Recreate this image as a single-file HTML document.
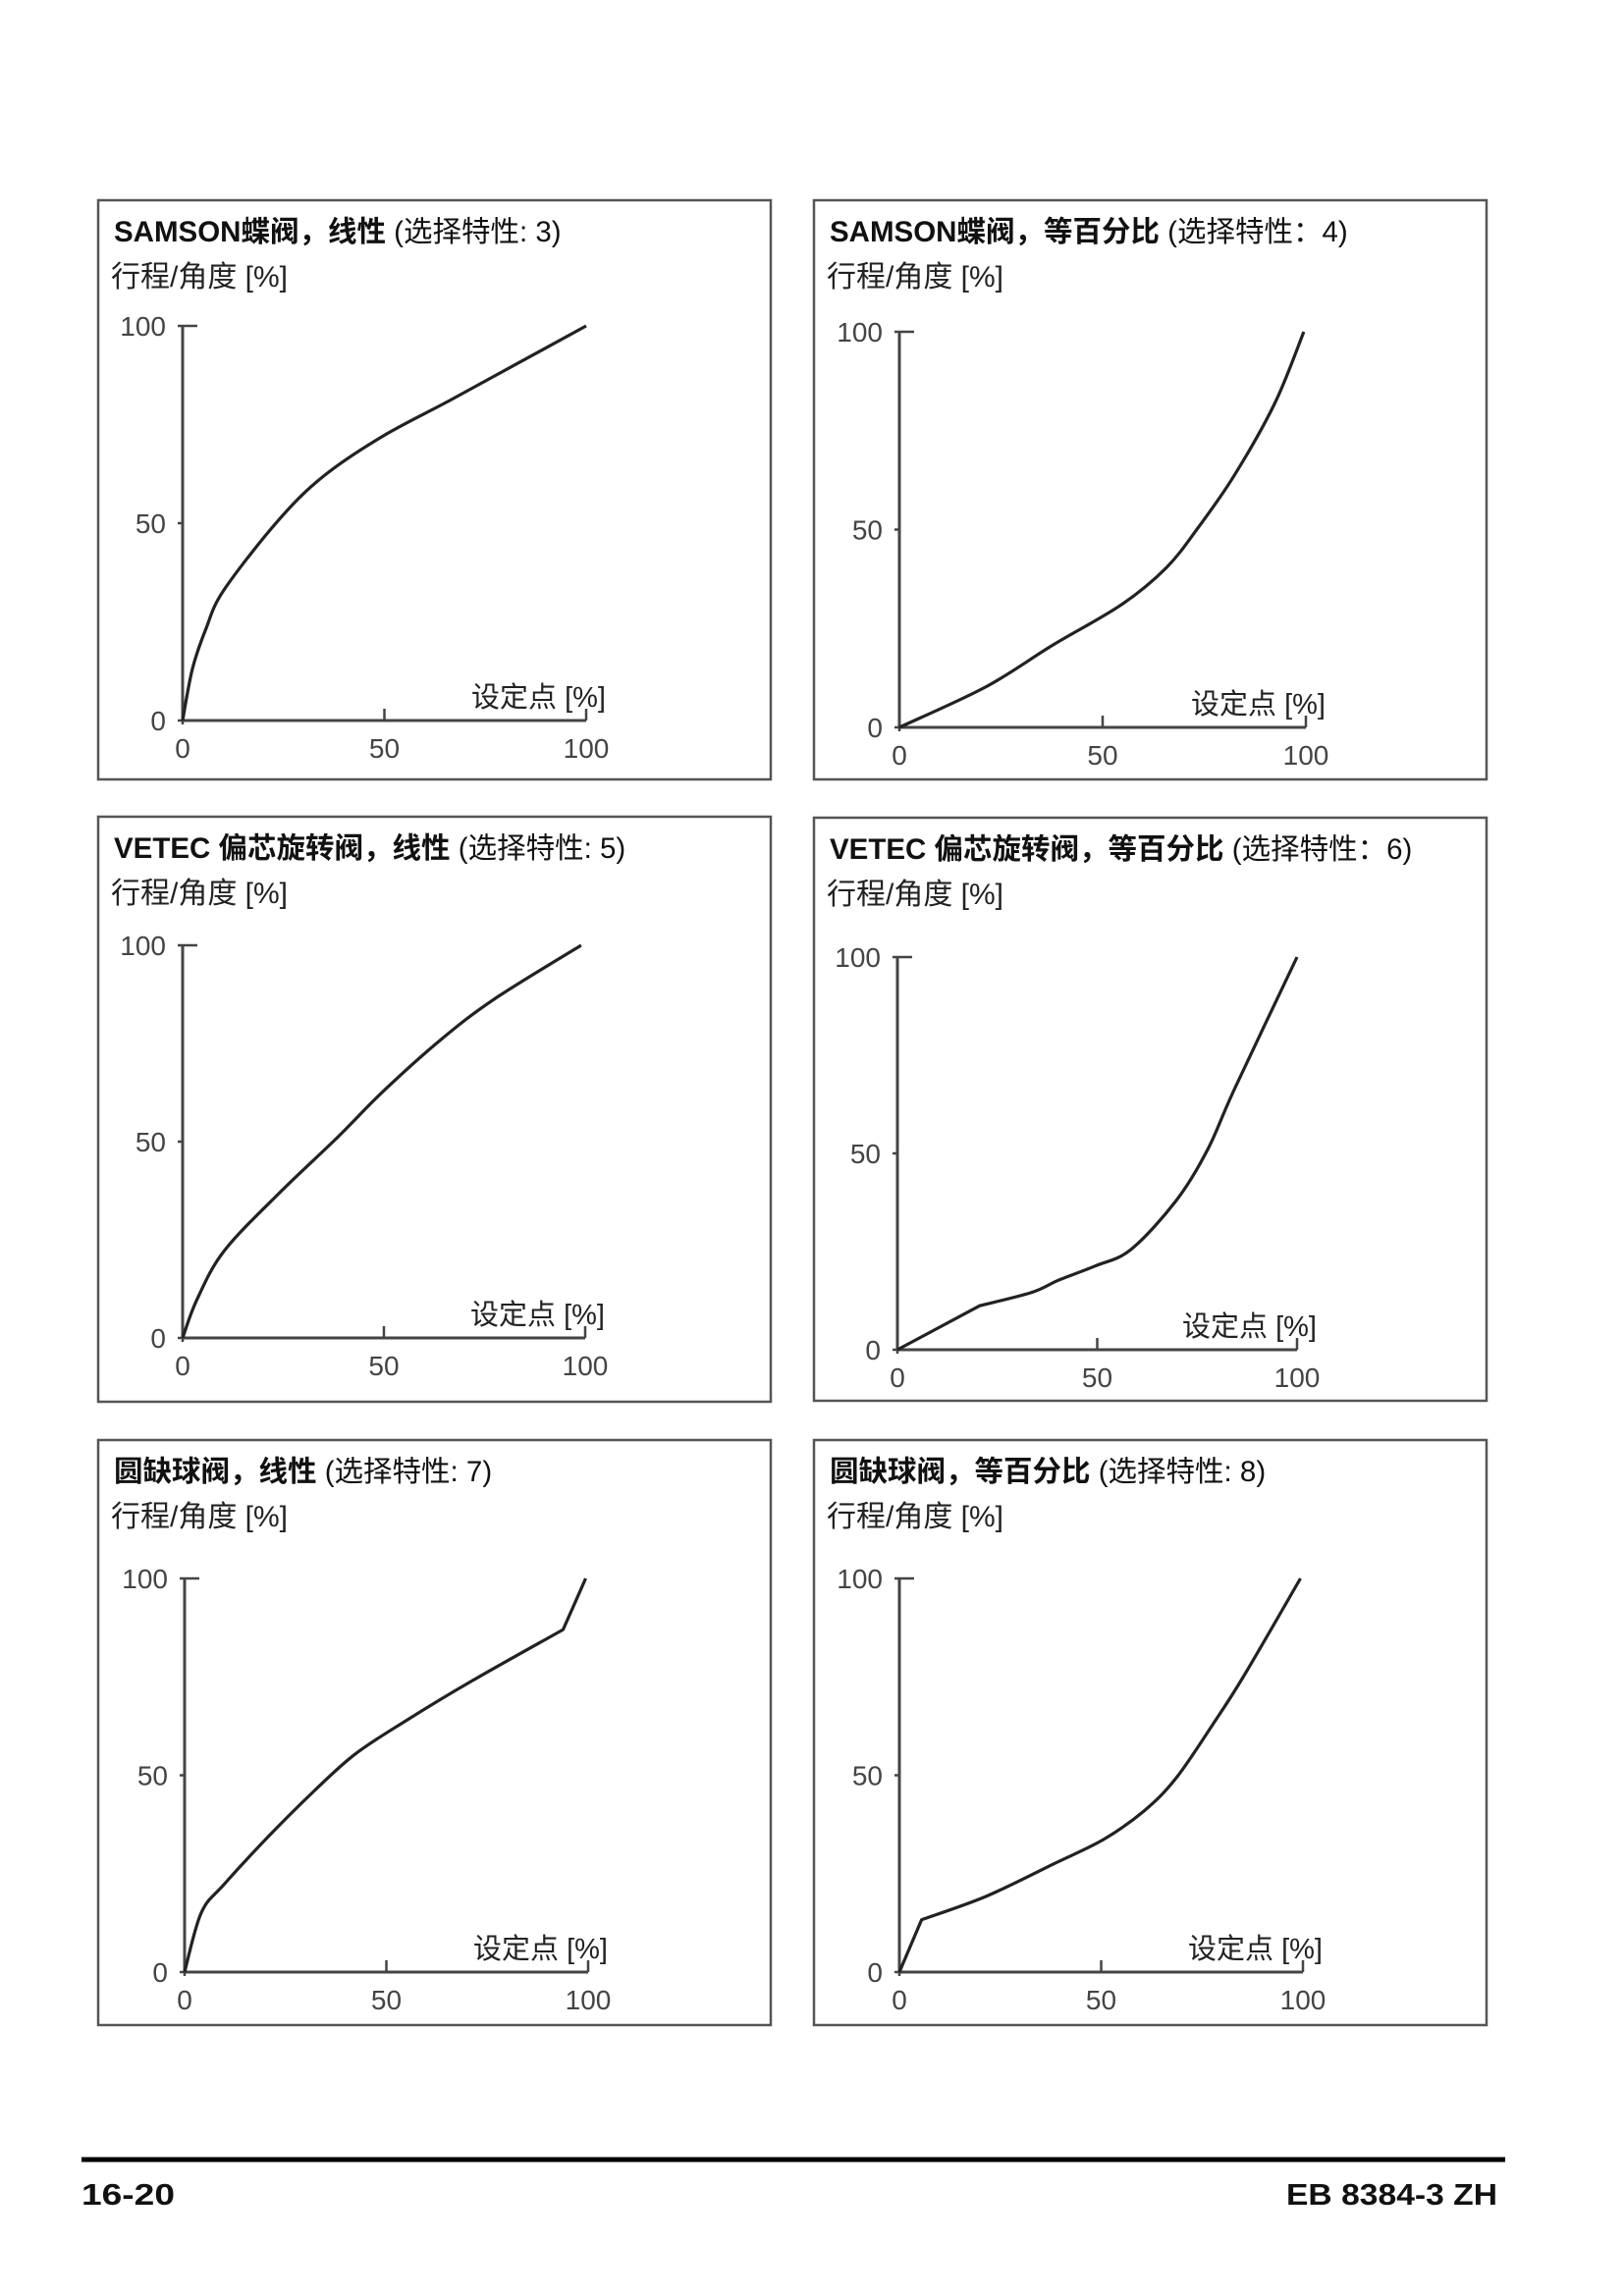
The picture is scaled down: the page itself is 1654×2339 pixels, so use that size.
<!DOCTYPE html>
<html><head><meta charset="utf-8"><style>
html,body{margin:0;padding:0;background:#fff;}
svg{display:block;}
text{font-family:"Liberation Sans","Noto Sans CJK SC",sans-serif;}
</style></head><body>
<svg id="page" width="1654" height="2339" viewBox="0 0 1654 2339" xmlns="http://www.w3.org/2000/svg">
<g id="charts"></g>
<line x1="83" y1="2200" x2="1533" y2="2200" stroke="#000" stroke-width="5"/>
<text x="83" y="2246" font-size="31" font-weight="bold" fill="#111" textLength="95" lengthAdjust="spacingAndGlyphs">16-20</text>
<text x="1525" y="2246" font-size="31" font-weight="bold" fill="#111" text-anchor="end" textLength="215" lengthAdjust="spacingAndGlyphs">EB 8384-3 ZH</text>
</svg>
<script>
// Data (setpoint % -> travel/angle %)
const c3x = [0, 2.4, 5.7, 10.2, 23.7, 35, 49.5, 66, 83, 100];
const c3y = [0, 13, 23, 33, 50.7, 62, 72, 81, 90.5, 100];
const c4x = [0, 21.2, 37.9, 54.6, 65.7, 73.5, 82.4, 92.4, 99.5];
const c4y = [0, 10.2, 20.9, 31, 40.4, 50.5, 63.7, 82, 100];
const c5x = [0, 3.5, 10.2, 23.7, 38.4, 49.6, 64.2, 77.7, 99];
const c5y = [0, 9.6, 22, 36.6, 51, 62.6, 76, 86.5, 100];
const c6x = [0, 20.6, 33.6, 40.3, 49.4, 58.4, 69.7, 77.6, 84.4, 100];
const c6y = [0, 11.2, 14.6, 17.7, 21.3, 25.5, 37.9, 50.9, 66.5, 100];
const c7x = [0, 4.1, 9.8, 21, 32.2, 42.3, 54.6, 71.4, 93.8, 99.4];
const c7y = [0, 15, 22.3, 34.7, 46.1, 55.4, 63.7, 74.1, 87, 100];
const c8x = [0, 5.5, 21.4, 38.3, 50.6, 60.7, 68.6, 77.6, 85.4, 99.4];
const c8y = [0, 13.3, 19.2, 27.5, 33.7, 41, 49.3, 62.8, 75.3, 100];
// indices of sharp corners in each curve
const c3k = [], c4k = [], c5k = [], c6k = [1], c7k = [8], c8k = [1];
const tickValues = [0, 50, 100];
const titlesBold = ["SAMSON蝶阀，线性", "SAMSON蝶阀，等百分比", "VETEC 偏芯旋转阀，线性", "VETEC 偏芯旋转阀，等百分比", "圆缺球阀，线性", "圆缺球阀，等百分比"];
const titlesReg = [" (选择特性: 3)", " (选择特性：4)", " (选择特性: 5)", " (选择特性：6)", " (选择特性: 7)", " (选择特性: 8)"];

const seriesX = [c3x, c4x, c5x, c6x, c7x, c8x];
const seriesY = [c3y, c4y, c5y, c6y, c7y, c8y];
const seriesK = [c3k, c4k, c5k, c6k, c7k, c8k];
// layout (pixels)
const layout = [
  {bx:100,by:204,bw:685,bh:590, ox:186,oy:734,x100:597,y100:332},
  {bx:829,by:204,bw:685,bh:590, ox:916,oy:741,x100:1330,y100:338},
  {bx:100,by:832,bw:685,bh:596, ox:186,oy:1363,x100:596,y100:963},
  {bx:829,by:833,bw:685,bh:594, ox:914,oy:1375,x100:1321,y100:975},
  {bx:100,by:1467,bw:685,bh:596, ox:188,oy:2009,x100:599,y100:1608},
  {bx:829,by:1467,bw:685,bh:596, ox:916,oy:2009,x100:1327,y100:1608}
];
const NS = "http://www.w3.org/2000/svg";
const root = document.getElementById("charts");
function mk(tag, attrs, parent){
  const e = document.createElementNS(NS, tag);
  for (const k in attrs) e.setAttribute(k, attrs[k]);
  parent.appendChild(e);
  return e;
}
function smoothPath(P, kinks){
  let d = "M" + P[0][0].toFixed(1) + "," + P[0][1].toFixed(1);
  const isK = i => i === 0 || i === P.length - 1 || kinks.indexOf(i) >= 0;
  for (let i = 0; i < P.length - 1; i++){
    const p1 = P[i], p2 = P[i+1];
    const p0 = isK(i) ? p1 : P[i-1];
    const p3 = isK(i+1) ? p2 : P[i+2];
    const t = 1/6;
    const c1 = [p1[0] + (p2[0]-p0[0])*t, p1[1] + (p2[1]-p0[1])*t];
    const c2 = [p2[0] - (p3[0]-p1[0])*t, p2[1] - (p3[1]-p1[1])*t];
    d += " C" + c1[0].toFixed(1) + "," + c1[1].toFixed(1) + " " + c2[0].toFixed(1) + "," + c2[1].toFixed(1) + " " + p2[0].toFixed(1) + "," + p2[1].toFixed(1);
  }
  return d;
}
layout.forEach((L, i) => {
  const g = mk("g", {}, root);
  
  
  const sx = v => L.ox + (L.x100 - L.ox) * v / 100;
  const sy = v => L.oy - (L.oy - L.y100) * v / 100;
  const box = mk("rect", {x:L.bx, y:L.by, width:L.bw, height:L.bh, fill:"none", stroke:"#555", "stroke-width":2.5}, g);
  
  
  const t = mk("text", {x:L.bx+16, y:L.by+42, "font-size":29.5, fill:"#111"}, g);
  
  
  const tb = mk("tspan", {"font-weight":"bold"}, t); tb.textContent = titlesBold[i];
  const tr = mk("tspan", {}, t); tr.textContent = titlesReg[i];
  const yl = mk("text", {x:L.bx+13, y:L.by+88, "font-size":30, fill:"#222"}, g);
  
  
  yl.textContent = "行程/角度 [%]";
  const xl = mk("text", {x:sx(100)+20, y:L.oy-14, "font-size":29, fill:"#222", "text-anchor":"end"}, g);
  
  
  xl.textContent = "设定点 [%]";
  const ya = mk("line", {x1:L.ox, y1:sy(0), x2:L.ox, y2:sy(100), stroke:"#444", "stroke-width":3}, g);
  
  
  const xa = mk("line", {x1:sx(0), y1:L.oy, x2:sx(100), y2:L.oy, stroke:"#444", "stroke-width":3}, g);
  
  
  tickValues.forEach(v => {
    const yt = mk("line", {x1:L.ox-5, y1:sy(v), x2:L.ox + (v===100?15:0), y2:sy(v), stroke:"#444", "stroke-width":2.5}, g);
    
    
    const ytl = mk("text", {x:L.ox-17, y:sy(v)+10, "font-size":28, fill:"#444", "text-anchor":"end"}, g);
    
    
    ytl.textContent = v;
    const xt = mk("line", {x1:sx(v), y1:L.oy, x2:sx(v), y2:L.oy + (v===0?4:-12), stroke:"#444", "stroke-width":2.5}, g);
    
    
    const xtl = mk("text", {x:sx(v), y:L.oy+38, "font-size":28, fill:"#444", "text-anchor":"middle"}, g);
    
    
    xtl.textContent = v;
  });
  const xs = seriesX[i], ys = seriesY[i];
  const P = xs.map((x, k) => [sx(x), sy(ys[k])]);
  const pl = mk("path", {d:smoothPath(P, seriesK[i]), fill:"none", stroke:"#222", "stroke-width":3.2, "stroke-linejoin":"round"}, g);
  
  
});
</script>
</body></html>
